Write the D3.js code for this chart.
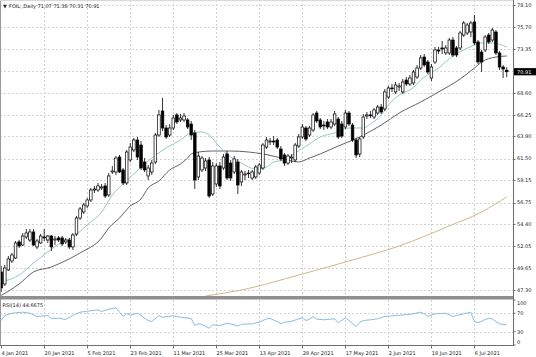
<!DOCTYPE html>
<html><head><meta charset="utf-8">
<script src="https://cdn.jsdelivr.net/npm/d3@7"></script>
<style>html,body{margin:0;padding:0;background:#fff;overflow:hidden}</style>
</head><body>
<svg id="c" width="536" height="357"></svg>
<script>
const symbolTitle = "FOIL,,Daily";
const lastOHLC = "71.07 71.38 70.31 70.91";
const rsiTitle = "RSI(14) 44.6675";
const dateLabels = ["4 Jan 2021","20 Jan 2021","5 Feb 2021","23 Feb 2021","11 Mar 2021","25 Mar 2021","13 Apr 2021","29 Apr 2021","17 May 2021","2 Jun 2021","18 Jun 2021","6 Jul 2021"];
const dateLabelBars = [0,12,24,36,48,60,72,84,96,108,120,132];
const priceTicks = [78.10,75.70,73.35,70.95,68.60,66.25,63.90,61.50,59.15,56.75,54.40,52.05,49.65,47.30];
const lastPrice = 70.91;
const rsiTicks = [100,70,30,0];
const rsiLevels = [70,30];

const open = [49.24,47.94,49.46,50.43,50.75,52.49,52.16,53.03,52.70,53.57,
51.95,52.38,53.03,52.70,53.13,52.70,52.92,52.92,52.49,52.70,
51.95,53.35,55.08,55.73,56.38,57.03,58.11,58.11,58.33,58.55,
57.57,60.06,60.06,61.68,60.28,58.87,61.36,62.44,63.52,62.98,
61.14,59.63,60.06,61.14,64.06,66.66,64.82,64.06,64.82,66.23,
65.69,65.69,65.69,65.25,64.28,59.52,60.28,60.49,61.36,57.68,
58.76,60.71,60.49,62.01,61.03,60.06,61.14,58.98,59.74,59.95,
59.41,59.52,59.95,60.49,62.76,63.31,63.41,63.52,62.55,61.90,
61.03,61.57,61.36,62.87,63.85,64.82,64.06,64.60,66.44,65.69,
65.14,65.47,64.93,65.25,65.79,65.25,64.93,66.44,65.14,63.52,
62.01,63.85,66.12,66.23,66.01,66.44,67.09,66.88,68.17,69.15,
68.72,69.26,68.72,70.01,69.58,69.69,70.34,71.31,72.50,71.96,
70.23,71.96,73.26,73.48,72.94,72.94,74.34,73.48,73.48,74.88,
75.10,75.21,76.29,74.13,73.04,73.26,74.88,74.34,75.21,72.94,
71.42,71.07];
const high = [49.89,50.00,50.97,51.30,52.59,52.70,53.46,53.89,53.89,53.89,
52.81,53.35,53.89,53.24,53.24,53.13,53.13,53.13,52.92,52.92,
53.46,55.30,56.27,56.71,57.25,58.33,58.55,58.87,58.76,58.87,
59.95,60.71,61.79,61.90,60.49,62.44,63.20,63.74,63.85,63.41,
61.57,60.82,61.36,64.28,66.77,68.07,65.14,65.25,66.23,66.44,
66.34,66.44,65.90,65.58,64.60,62.22,61.79,61.57,61.68,61.14,
61.03,61.14,62.01,62.33,61.36,61.79,61.47,60.28,60.17,60.28,
60.28,60.82,61.03,63.20,63.85,63.74,63.95,63.74,62.87,62.12,
62.01,62.01,63.20,64.17,65.25,65.04,65.04,66.44,66.66,65.90,
65.58,65.79,65.79,66.66,66.01,65.58,66.77,66.66,65.36,63.74,
63.85,66.34,66.55,66.66,66.98,67.31,67.42,69.04,69.37,69.58,
69.80,69.69,70.12,70.34,70.56,71.10,71.64,72.72,72.83,72.18,
71.75,73.58,73.58,74.23,73.80,74.56,74.67,73.69,75.32,76.40,
76.18,76.40,77.05,74.34,73.26,74.88,75.10,75.64,75.42,73.15,
71.64,71.38];
const low = [47.08,47.72,49.35,50.21,50.65,51.84,52.05,52.81,52.49,52.05,
51.73,52.27,52.59,52.38,51.51,52.16,52.49,52.05,52.27,51.73,
51.62,53.13,54.87,55.51,56.16,56.81,57.79,57.90,58.11,57.25,
57.36,59.84,59.74,59.95,58.65,58.65,61.14,62.22,61.36,60.28,
60.06,59.19,59.74,60.93,63.85,64.50,63.63,63.85,64.60,65.25,
65.47,65.47,64.71,63.52,58.22,59.19,60.06,60.17,57.25,57.46,
58.44,58.22,60.28,59.19,59.09,59.84,57.68,58.55,59.19,59.41,
59.19,59.30,59.74,60.28,62.55,62.98,62.98,62.55,61.25,60.71,
60.82,61.03,61.14,62.66,63.63,63.41,63.85,64.39,65.36,64.71,
64.60,64.71,64.71,65.04,63.63,63.74,64.71,65.04,63.31,61.57,
61.68,63.63,65.79,65.90,65.79,66.23,66.34,66.66,67.96,68.72,
68.50,68.82,68.50,69.37,69.37,69.47,70.12,71.10,71.42,70.66,
69.91,71.75,72.83,72.83,72.72,72.72,72.50,72.50,73.26,74.67,
74.88,74.67,73.80,71.75,70.88,73.04,73.91,74.13,72.72,71.10,
70.23,70.31];
const close = [47.51,49.67,50.65,51.08,52.38,52.05,53.13,53.46,53.57,52.16,
52.59,53.13,52.92,53.13,51.95,52.81,52.70,52.27,52.70,51.95,
53.24,55.08,56.06,56.49,57.03,58.11,58.22,58.55,58.44,57.46,
59.63,60.17,61.57,60.06,58.87,62.22,62.76,63.52,61.68,60.49,
60.28,60.49,61.03,64.06,66.23,64.82,63.85,64.82,65.90,65.47,
65.90,66.12,64.93,64.06,59.19,61.79,61.57,61.25,57.46,60.71,
60.71,58.55,61.68,59.41,59.41,61.47,58.65,60.06,59.84,59.90,
60.06,60.60,60.82,62.98,63.52,63.41,63.31,62.76,61.47,61.03,
61.79,61.68,62.98,63.85,64.93,63.63,64.82,66.23,65.58,64.93,
65.04,64.93,65.47,66.34,63.85,63.95,66.44,65.25,63.52,61.90,
63.63,66.01,66.23,66.17,66.77,67.09,66.55,68.72,69.15,69.09,
69.47,69.37,69.80,69.58,70.23,70.88,71.31,72.40,71.64,70.88,
71.42,73.26,73.15,73.37,73.48,74.34,72.72,72.72,75.10,76.18,
75.97,76.18,74.02,71.96,71.96,74.67,74.13,75.42,72.94,71.42,
71.20,70.91];

const fastMaBars = [0,5,9,13,16,20,24,28,31,35,39,42,46,50,53,56,58,60,62,64,67,71,74,76,79,82,86,89,93,97,99,101,103,106,108,111,115,117,122,126,129,132,134,137,141];
const fastMa = [48.16,48.91,50.21,51.40,52.27,53.03,54.33,55.73,57.57,59.09,60.60,61.57,62.66,63.52,64.28,64.39,64.06,63.20,62.33,61.68,61.03,60.38,60.60,61.14,61.36,62.12,63.09,63.85,64.28,64.82,64.82,64.82,65.25,66.23,67.31,68.39,69.20,70.01,71.31,72.61,73.26,73.80,74.02,74.02,73.58];
const slowMaBars = [0,5,9,14,16,22,28,30,33,36,39,41,44,47,50,52,53,55,59,64,69,73,77,81,83,86,89,94,100,106,111,117,122,128,132,134,138,141];
const slowMa = [46.70,47.94,49.24,49.78,50.11,51.30,52.92,54.00,55.08,56.38,57.14,58.33,59.09,60.28,60.93,61.57,62.01,62.22,62.33,62.33,62.22,62.01,61.68,61.25,61.14,61.57,62.01,62.87,63.85,65.14,66.44,67.63,68.72,70.12,71.31,71.96,72.50,72.61];
const longMaBars = [57,67,83,97,111,125,134,141];
const longMa = [46.64,47.29,48.91,50.43,52.05,54.22,55.73,57.36];
const rsiBars = [0,1,3,6,8,10,13,14,16,18,20,22,24,27,28,30,32,33,34,35,36,38,39,41,42,44,45,48,50,53,54,55,56,58,59,61,63,65,66,67,70,72,74,75,77,78,79,81,84,85,86,87,88,90,93,94,96,97,99,100,101,103,105,107,109,111,114,117,118,119,121,124,126,127,129,131,132,133,134,135,136,137,138,139,140,141];
const rsi = [54.3,65.2,70.2,72.4,70.2,63.0,65.2,58.7,59.3,56.5,65.2,72.4,74.6,77.6,73.9,78.9,82.0,72.4,63.0,69.6,65.9,70.2,65.2,54.3,52.2,65.2,61.5,64.6,61.5,58.7,43.5,47.2,45.7,37.6,45.0,43.5,48.5,45.0,42.0,46.0,47.2,50.7,58.0,58.7,52.0,47.2,50.7,52.8,60.2,54.3,57.0,63.0,57.2,55.9,58.0,49.3,60.2,54.5,41.3,50.0,54.3,55.9,58.0,63.0,64.6,65.9,67.4,72.4,68.9,63.0,68.9,70.2,63.0,65.2,68.9,72.4,52.0,50.0,52.5,56.5,58.7,58.0,52.0,47.2,46.0,44.67];

const svg = d3.select('#c');
const font = "DejaVu Sans, Verdana, sans-serif";
const plotR = 513.5, mainTop = 0, mainBot = 296, rsiTop = 299.5, rsiBot = 345.5;
const x = d3.scaleLinear().domain([0, close.length - 1]).range([1.2, 506.7]);
const y = d3.scaleLinear().domain([46.64, 78.67]).range([mainBot, mainTop]);
const yr = d3.scaleLinear().domain([0, 100]).range([rsiBot, rsiTop]);

svg.append('rect').attr('width',536).attr('height',357).attr('fill','#fff');
const defs = svg.append('defs');
defs.append('clipPath').attr('id','cm').append('rect').attr('x',0).attr('y',mainTop).attr('width',plotR).attr('height',mainBot-mainTop);
defs.append('clipPath').attr('id','cr').append('rect').attr('x',0).attr('y',rsiTop).attr('width',plotR).attr('height',rsiBot-rsiTop);

const gridC = '#d2d2d2', dash = '2,2';
svg.append('g').selectAll('line').data(priceTicks).join('line')
  .attr('x1',0).attr('x2',plotR).attr('y1',d=>Math.round(y(d))+0.5).attr('y2',d=>Math.round(y(d))+0.5)
  .attr('stroke',gridC).attr('stroke-dasharray',dash).attr('stroke-width',1);
svg.append('g').selectAll('line').data(rsiLevels).join('line')
  .attr('x1',0).attr('x2',plotR).attr('y1',d=>Math.round(yr(d))+0.5).attr('y2',d=>Math.round(yr(d))+0.5)
  .attr('stroke',gridC).attr('stroke-dasharray',dash);
svg.append('g').selectAll('line').data(dateLabelBars.slice(1)).join('line')
  .attr('x1',d=>Math.round(x(d))+0.5).attr('x2',d=>Math.round(x(d))+0.5)
  .attr('y1',mainTop).attr('y2',rsiBot)
  .attr('stroke',gridC).attr('stroke-dasharray',dash);

const main = svg.append('g').attr('clip-path','url(#cm)');
function maLine(bars, vals, color, w){
  const pts = bars.map((b,i)=>[b, vals[i]]);
  main.append('path').datum(pts)
    .attr('d', d3.line().x(d=>x(d[0])).y(d=>y(d[1])).curve(d3.curveMonotoneX))
    .attr('fill','none').attr('stroke',color).attr('stroke-width',w);
}
maLine(longMaBars, longMa, '#cdb892', 1);
maLine(slowMaBars, slowMa, '#62606e', 1);
maLine(fastMaBars, fastMa, '#94c8c4', 1);

const idx = d3.range(close.length);
main.append('g').selectAll('line').data(idx).join('line')
  .attr('x1',i=>x(i)).attr('x2',i=>x(i)).attr('y1',i=>y(high[i])).attr('y2',i=>y(low[i]))
  .attr('stroke','#000').attr('stroke-width',0.8);
main.append('g').selectAll('rect').data(idx).join('rect')
  .attr('x',i=>x(i)-1.3).attr('width',2.6)
  .attr('y',i=>Math.min(y(open[i]),y(close[i])))
  .attr('height',i=>Math.max(0.8,Math.abs(y(open[i])-y(close[i]))))
  .attr('fill',i=>close[i]>=open[i]?'#fff':'#000')
  .attr('stroke','#000').attr('stroke-width',0.7);

svg.append('g').attr('clip-path','url(#cr)').append('path')
  .datum(rsiBars.map((b,i)=>[b,rsi[i]]))
  .attr('d', d3.line().x(d=>x(d[0])).y(d=>yr(d[1])))
  .attr('fill','none').attr('stroke','#8cbcd8').attr('stroke-width',1);

svg.append('line').attr('x1',0.5).attr('x2',0.5).attr('y1',0).attr('y2',rsiBot).attr('stroke','#9a9a9a');
svg.append('line').attr('x1',0).attr('x2',plotR).attr('y1',0.5).attr('y2',0.5).attr('stroke','#d8d8d8');
svg.append('rect').attr('x',0).attr('y',mainBot).attr('width',plotR).attr('height',3.5).attr('fill','#8f8f8f');
svg.append('line').attr('x1',plotR).attr('x2',plotR).attr('y1',0).attr('y2',rsiBot+0.5).attr('stroke','#6e6e6e');
svg.append('line').attr('x1',0).attr('x2',plotR).attr('y1',rsiBot).attr('y2',rsiBot).attr('stroke','#6e6e6e');

const ax = svg.append('g').attr('font-family',font).attr('font-size',5).attr('fill','#222');
ax.selectAll('line.pt').data(priceTicks).join('line').attr('class','pt')
  .attr('x1',plotR).attr('x2',plotR+2).attr('y1',d=>Math.round(y(d))+0.5).attr('y2',d=>Math.round(y(d))+0.5).attr('stroke','#6e6e6e');
ax.selectAll('text.pl').data(priceTicks).join('text').attr('class','pl')
  .attr('x',517).attr('y',d=>y(d)+1.8).text(d=>d.toFixed(2));
ax.append('rect').attr('x',plotR+0.5).attr('y',y(lastPrice)-3.6).attr('width',536-plotR).attr('height',7.2).attr('fill','#000');
ax.append('text').attr('x',517).attr('y',y(lastPrice)+1.8).attr('fill','#fff').text(lastPrice.toFixed(2));
ax.selectAll('text.rl').data(rsiTicks).join('text').attr('class','rl')
  .attr('x',517).attr('y',d=>Math.max(303,Math.min(342,yr(d)))+1.8).text(d=>d);
ax.selectAll('line.rt').data(rsiTicks).join('line').attr('class','rt')
  .attr('x1',plotR).attr('x2',plotR+2).attr('y1',d=>Math.max(300,Math.min(345,yr(d)))).attr('y2',d=>Math.max(300,Math.min(345,yr(d)))).attr('stroke','#6e6e6e');
ax.selectAll('line.dt').data(dateLabelBars).join('line').attr('class','dt')
  .attr('x1',d=>Math.round(x(d))+0.5).attr('x2',d=>Math.round(x(d))+0.5).attr('y1',rsiBot).attr('y2',rsiBot+3).attr('stroke','#6e6e6e');
ax.selectAll('text.dl').data(dateLabels).join('text').attr('class','dl')
  .attr('x',(d,i)=>x(dateLabelBars[i])+0.3).attr('y',354.5).text(d=>d);

const tt = svg.append('g').attr('font-family',font).attr('font-size',5).attr('fill','#222');
tt.append('text').attr('x',3).attr('y',8).text('\u25BC');
tt.append('text').attr('x',9).attr('y',8).text(symbolTitle + '  ' + lastOHLC);
tt.append('text').attr('x',2.5).attr('y',307).text(rsiTitle);
</script>
</body></html>
